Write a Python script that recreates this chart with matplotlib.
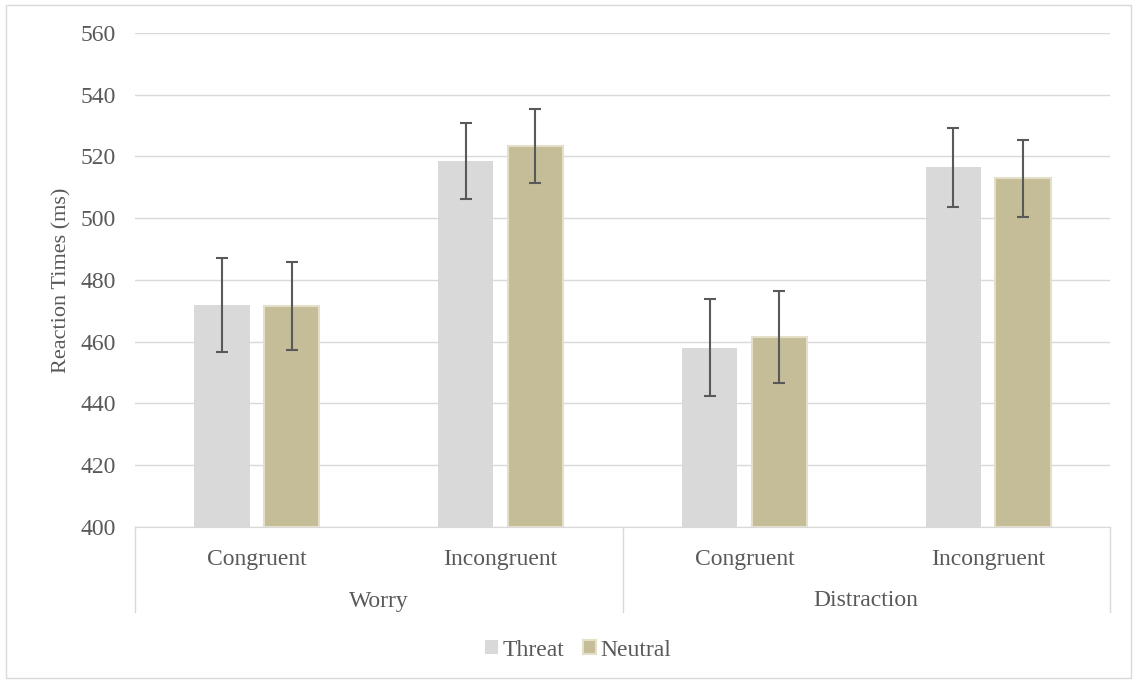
import numpy as np
import matplotlib; matplotlib.use("Agg")
import matplotlib.pyplot as plt
from matplotlib.lines import Line2D
from matplotlib.patches import Rectangle

conditions = ["Congruent", "Incongruent", "Congruent", "Incongruent"]
groups = ["Worry", "Distraction"]
threat = [472, 518.5, 458, 516.5]
threat_err = [15.2, 12.2, 15.7, 12.7]
neutral = [471.5, 523.3, 461.6, 513.0]
neutral_err = [14.2, 12.0, 14.8, 12.5]

W, H = 1137, 683
plt.rcParams["font.family"] = ["Liberation Serif", "DejaVu Serif"]
GREY = "#595959"
FS = 17

fig = plt.figure(figsize=(W / 100, H / 100), dpi=100)
fx = lambda px: px / W
fy = lambda py: 1 - py / H

ax = fig.add_axes([fx(135), fy(527), fx(1110) - fx(135), fy(33) - fy(527)])
x = np.arange(len(conditions))
bw, off = 0.226, 0.143
ax.bar(x - off, np.array(threat) - 400, bw, bottom=400, color="#d9d9d9", zorder=2, label="Threat")
ax.bar(x + off, np.array(neutral) - 400, bw, bottom=400, color="#c4bd97", edgecolor="#e3dfc9",
       linewidth=1.5, zorder=2, label="Neutral")
ekw = dict(fmt="none", ecolor=GREY, elinewidth=1.5, capsize=4.5, capthick=1.5, zorder=3)
ax.errorbar(x - off, threat, yerr=threat_err, **ekw)
ax.errorbar(x + off, neutral, yerr=neutral_err, **ekw)

ax.set_xlim(-0.5, 3.5)
ax.set_ylim(400, 560)
ax.set_yticks(np.arange(400, 561, 20))
ax.yaxis.grid(True, color="#d9d9d9", lw=1, zorder=0)
ax.set_axisbelow(True)
for s in ["top", "right", "left"]:
    ax.spines[s].set_visible(False)
ax.spines["bottom"].set_color("#d9d9d9")
ax.tick_params(axis="both", length=0, labelsize=FS, colors=GREY, pad=14)
ax.set_xticks([])
ax.set_ylabel("Reaction Times (ms)", fontsize=16, color=GREY, labelpad=6)

# multi-level category axis
for i, c in enumerate(conditions):
    fig.text(fx(135 + 243.75 * (i + 0.5)), fy(559), c, ha="center", va="center", fontsize=FS, color=GREY)
for j, g in enumerate(groups):
    fig.text(fx(135 + 487.5 * (j + 0.5)), fy(601), g, ha="center", va="center", fontsize=FS, color=GREY)
for px in [135, 622.5, 1110]:
    fig.add_artist(Line2D([fx(px), fx(px)], [fy(527), fy(612)], color="#d9d9d9", lw=1))

fig.legend(loc="center", bbox_to_anchor=(fx(578), fy(650)), ncol=2, frameon=False,
           fontsize=FS, labelcolor=GREY, handlelength=0.55, handleheight=0.55,
           handletextpad=0.2, columnspacing=0.8)

fig.add_artist(Rectangle((fx(6), fy(678)), fx(1131) - fx(6), fy(5) - fy(678),
                         fill=False, edgecolor="#d9d9d9", lw=1, transform=fig.transFigure))

fig.savefig("out.png", dpi=100)
